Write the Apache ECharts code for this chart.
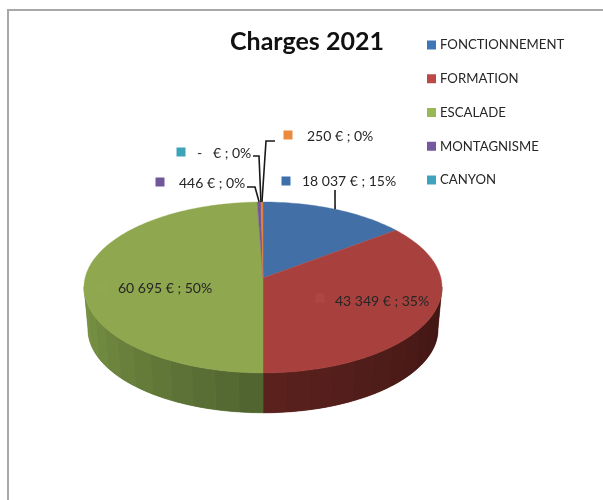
<!DOCTYPE html>
<html>
<head>
<meta charset="utf-8">
<style>html,body{margin:0;padding:0;background:#fff}#c{width:603px;height:500px}</style>
<script src="https://cdn.jsdelivr.net/npm/echarts@6/dist/echarts.min.js"></script>
</head>
<body>
<div id="c"></div>
<script>
// ---- data ----
const categories = ['FONCTIONNEMENT', 'FORMATION', 'ESCALADE', 'MONTAGNISME', 'CANYON', 'AUTRES'];
const legendNames = ['FONCTIONNEMENT', 'FORMATION', 'ESCALADE', 'MONTAGNISME', 'CANYON'];
const values = [18037, 43349, 60695, 446, 0, 250];
const labelTexts = ['18 037 € ; 15%', '43 349 € ; 35%', '60 695 € ; 50%', '446 € ; 0%', '-   € ; 0%', '250 € ; 0%'];

// ---- styles and layout ----
const FONT = 'Lato';
const TEXT = '#262626';
const topColors = ['#426fa6', '#a8413e', '#8fa74e', '#71569a', '#3fa0b8', '#e2813a'];
const legendColors = ['#3f76b5', '#bb4a47', '#98b954', '#7558a0', '#3fa3bd', '#e98a3e'];
const keyColors = ['#3f6fa8', '#ad4744', '#90a84f', '#71569a', '#3fa3b8', '#e98a3e'];
const wallNear = [[40,60,90], [92,34,30], [79,99,48], [60,45,80], [30,80,90], [110,60,25]];
const wallFar = [[40,60,90], [62,21,18], [125,152,70], [60,45,80], [30,80,90], [110,60,25]];
const cx = 263, cy = 278, rx = 177.9, ry = 84.4, persp = 0.111;
const dropY = 42, dropScale = 0.978;
const labelLayout = [
  {x: 302, y: 181, kx: 286, ky: 181, elbow: [[335, 190]]},
  {x: 335, y: 301, kx: 320, ky: 298},
  {x: 118, y: 288, kx: 103, ky: 288},
  {x: 179, y: 183, kx: 160, ky: 182, elbow: [[247, 187], [255, 187]]},
  {x: 197, y: 153, kx: 181, ky: 152, elbow: [[253, 156], [259, 156]]},
  {x: 307, y: 136, kx: 288, ky: 135, elbow: [[275, 141], [266, 141]]}
];

// ---- pie geometry ----
const total = values.reduce((a, b) => a + b, 0);
const starts = [];
values.reduce((acc, v, i) => { starts[i] = acc; return acc + v; }, 0);
const toDeg = v => v / total * 360;

function project(deg, lower) {
  const t = deg * Math.PI / 180;
  const s = 1 / (1 + persp * Math.cos(t));
  const k = lower ? dropScale : 1;
  return [cx + rx * Math.sin(t) * s * k,
          cy + (lower ? dropY : 0) - ry * Math.cos(t) * s * k];
}
function mix(a, b, f) {
  return 'rgb(' + a.map((c, i) => Math.round(c + (b[i] - c) * f)).join(',') + ')';
}
function sweep(a, b, n) {
  const out = [];
  for (let k = 0; k <= n; k++) out.push(a + (b - a) * k / n);
  return out;
}
function wallPoints(a, b, n) {
  const ang = sweep(a, b, n);
  return ang.map(d => project(d, false))
    .concat(ang.slice().reverse().map(d => project(d, true)));
}
const WALL_MIN = 96, WALL_MAX = 264, BAND = 7;

function makeRender(i) {
  return function (params, api) {
    const value = api.value(0);
    const a0 = toDeg(starts[i]);
    const a1 = a0 + toDeg(value);
    const children = [];

    // side wall: a solid underlay, then shaded bands, front part only
    const w0 = Math.max(a0, WALL_MIN), w1 = Math.min(a1, WALL_MAX);
    if (w1 > w0) {
      const base = mix(wallNear[i], wallFar[i], 0.5);
      children.push({type: 'polygon', shape: {points: wallPoints(w0, w1, 60)},
        style: {fill: base, stroke: base, lineWidth: 0.5}, silent: true});
    }
    for (let a = w0; a < w1 - 0.001; a += BAND) {
      const b = Math.min(a + BAND, w1);
      const f = Math.min(1, Math.abs((a + b) / 2 - 180) / 84);
      children.push({type: 'polygon', shape: {points: wallPoints(a, b, 6)},
        style: {fill: mix(wallNear[i], wallFar[i], f)}, silent: true});
    }

    // top face
    if (value > 0) {
      const n = Math.max(2, Math.ceil((a1 - a0) / 1.5));
      const pts = [[cx, cy]].concat(sweep(a0, a1, n).map(d => project(d, false)));
      children.push({type: 'polygon', shape: {points: pts},
        style: {fill: topColors[i], stroke: topColors[i], lineWidth: 0.4}, silent: true});
    }

    // data label: leader, key and text
    const L = labelLayout[i];
    if (L.elbow) {
      const rim = project((a0 + a1) / 2, false);
      children.push({type: 'polyline', shape: {points: L.elbow.concat([rim])},
        style: {stroke: '#1a1a1a', lineWidth: 1.6, fill: null}, silent: true});
    }
    children.push({type: 'rect', shape: {x: L.kx - 4.5, y: L.ky - 4.5, width: 9, height: 9},
      style: {fill: keyColors[i]}, silent: true});
    children.push({type: 'text', x: L.x, y: L.y, silent: true,
      style: {text: labelTexts[i], font: '14px ' + FONT, fill: TEXT,
              textAlign: 'left', textVerticalAlign: 'middle'}});

    return {type: 'group', children: children};
  };
}

const chart = echarts.init(document.getElementById('c'), null, {renderer: 'canvas'});
chart.setOption({
  animation: false,
  backgroundColor: '#ffffff',
  title: {
    text: 'Charges 2021', left: 225, top: 24,
    textStyle: {fontFamily: FONT, fontSize: 25, fontWeight: 'bold', color: '#111111'}
  },
  legend: {
    data: legendNames, orient: 'vertical', left: 427, top: 38,
    itemWidth: 9, itemHeight: 9, itemGap: 19.75, padding: 0,
    icon: 'rect', selectedMode: false,
    textStyle: {fontFamily: FONT, fontSize: 13.2, color: TEXT, lineHeight: 14, padding: [0, 0, 0, -1]}
  },
  graphic: [{
    type: 'polyline', silent: true, z: 0,
    shape: {points: [[8, 500], [8, 10], [603, 10]]},
    style: {stroke: '#a8a8a8', lineWidth: 2, fill: null}
  }],
  series: categories.map((name, i) => ({
    type: 'custom', name: name, coordinateSystem: 'none', z: 2 + i,
    itemStyle: {color: legendColors[i]},
    renderItem: makeRender(i),
    data: [[values[i]]]
  }))
});
</script>
</body>
</html>
